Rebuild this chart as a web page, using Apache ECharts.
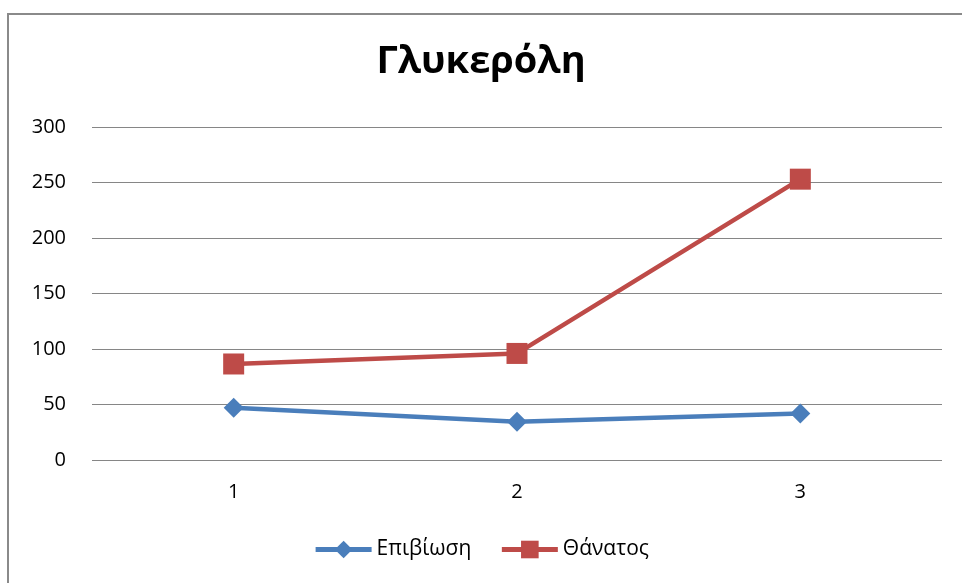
<!DOCTYPE html>
<html>
<head>
<meta charset="utf-8">
<script src="https://cdn.jsdelivr.net/npm/echarts@6/dist/echarts.min.js"></script>
<style>
  html, body { margin: 0; padding: 0; background: #fff; }
  #frame { position: absolute; left: 7px; top: 13px; width: 970px; height: 600px; border: 2px solid #8a8a8a; box-sizing: border-box; }
  #chart { position: absolute; left: 0; top: 0; width: 962px; height: 583px; }
</style>
</head>
<body>
<div id="frame"></div>
<div id="chart"></div>
<script>
const categories = ['1', '2', '3'];
const survival = [47, 34.5, 42];
const death = [86.5, 96, 253];
const seriesNames = ['Επιβίωση', 'Θάνατος'];
const yTicks = { min: 0, max: 300, interval: 50 };

const chart = echarts.init(document.getElementById('chart'), null, { renderer: 'canvas' });
const font = 'Open Sans, Liberation Sans, sans-serif';
chart.setOption({
  animation: false,
  backgroundColor: 'transparent',
  title: {
    text: 'Γλυκερόλη',
    left: 'center',
    top: 38,
    textStyle: { fontFamily: font, fontSize: 38, fontWeight: 'bold', color: '#000' }
  },
  legend: {
    bottom: 18,
    left: 'center',
    itemWidth: 56,
    itemHeight: 22,
    itemGap: 28,
    lineStyle: { width: 5 },
    textStyle: { fontFamily: font, fontSize: 21, color: '#000' },
    data: seriesNames
  },
  grid: { left: 92, right: 20, top: 127, bottom: 123, containLabel: false },
  xAxis: {
    type: 'category',
    data: categories,
    boundaryGap: true,
    axisLine: { show: false },
    axisTick: { show: false },
    axisLabel: { fontFamily: font, fontSize: 20, color: '#000', margin: 22 }
  },
  yAxis: {
    type: 'value',
    min: yTicks.min,
    max: yTicks.max,
    interval: yTicks.interval,
    axisLine: { show: false },
    axisTick: { show: false },
    axisLabel: { fontFamily: font, fontSize: 20, color: '#000', margin: 26 },
    splitLine: { lineStyle: { color: '#868686', width: 1 } }
  },
  series: [
    {
      name: seriesNames[0],
      type: 'line',
      data: survival,
      symbol: 'diamond',
      symbolSize: 20,
      itemStyle: { color: '#4A7EBB' },
      lineStyle: { color: '#4A7EBB', width: 4.5 }
    },
    {
      name: seriesNames[1],
      type: 'line',
      data: death,
      symbol: 'rect',
      symbolSize: 21,
      itemStyle: { color: '#BE4B48' },
      lineStyle: { color: '#BE4B48', width: 4.5 }
    }
  ]
});
</script>
</body>
</html>
